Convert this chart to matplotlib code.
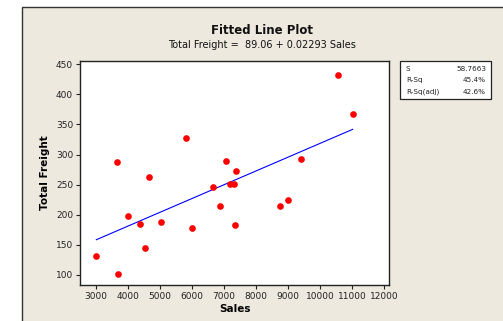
import matplotlib
matplotlib.use("Agg")
import matplotlib.pyplot as plt
from matplotlib.patches import Rectangle

# Data
sales = [3020, 3700, 3665, 4010, 4390, 4530, 4660, 5030, 5830, 6010, 6660,
         6870, 7075, 7180, 7335, 7390, 7365, 8750, 9010, 9415, 10570, 11025]
freight = [132, 102, 287, 198, 185, 145, 262, 187, 327, 178, 246,
           214, 290, 251, 251, 272, 182, 214, 225, 292, 433, 368]

# Regression summary from the chart
intercept = 89.06
slope = 0.02293
stat_names = ["S", "R-Sq", "R-Sq(adj)"]
stat_values = ["58.7663", "45.4%", "42.6%"]

x_ticks = [3000, 4000, 5000, 6000, 7000, 8000, 9000, 10000, 11000, 12000]
y_ticks = [100, 150, 200, 250, 300, 350, 400, 450]

W, H = 503, 321
bg = "#EDE9DF"

fig = plt.figure(figsize=(W / 100, H / 100), dpi=100)
fig.patch.set_facecolor("white")

# beige panel with dark frame (cropped at right/bottom)
fig.patches.append(Rectangle((22 / W, -0.1), 1.2, (H - 7) / H + 0.1,
                             transform=fig.transFigure, facecolor=bg,
                             edgecolor="#333333", linewidth=1.0, zorder=-5))

ax = fig.add_axes([80 / W, 36 / H, 309 / W, 224 / H])
ax.set_zorder(2)
ax.set_facecolor("white")

xs = [min(sales), max(sales)]
ys = [intercept + slope * v for v in xs]
ax.plot(xs, ys, color="#0000FF", linewidth=0.8, zorder=2)
ax.plot(sales, freight, "o", color="#FF0000", markersize=4.8,
        markeredgewidth=0, zorder=3)

ax.set_xlim(2510, 12160)
ax.set_ylim(83, 455.5)
ax.set_xticks(x_ticks)
ax.set_yticks(y_ticks)
ax.tick_params(direction="out", length=3, width=0.8, labelsize=6.5,
               colors="#222222", pad=2)
for s in ax.spines.values():
    s.set_color("#222222")
    s.set_linewidth(1.0)

ax.set_xlabel("Sales", fontsize=7.5, fontweight="bold", labelpad=2)
ax.set_ylabel("Total Freight", fontsize=7.5, fontweight="bold", labelpad=4)

fig.text(262 / W, 1 - 31 / H, "Fitted Line Plot", ha="center", va="center",
         fontsize=8.5, fontweight="bold", color="#111111")
fig.text(262 / W, 1 - 45 / H, "Total Freight =  89.06 + 0.02293 Sales",
         ha="center", va="center", fontsize=7, color="#111111")

# stats box
fig.patches.append(Rectangle((400 / W, 1 - 99 / H), 91 / W, 38 / H,
                             transform=fig.transFigure, facecolor="white",
                             edgecolor="#222222", linewidth=0.9, zorder=1))
rows_y = [69, 80, 92]
for name, val, yy in zip(stat_names, stat_values, rows_y):
    fig.text(406 / W, 1 - yy / H, name, ha="left", va="center",
             fontsize=5.2, color="#222222")
    fig.text(486 / W, 1 - yy / H, val, ha="right", va="center",
             fontsize=5.2, color="#222222")

fig.savefig("out.png", dpi=100, facecolor=fig.get_facecolor())
